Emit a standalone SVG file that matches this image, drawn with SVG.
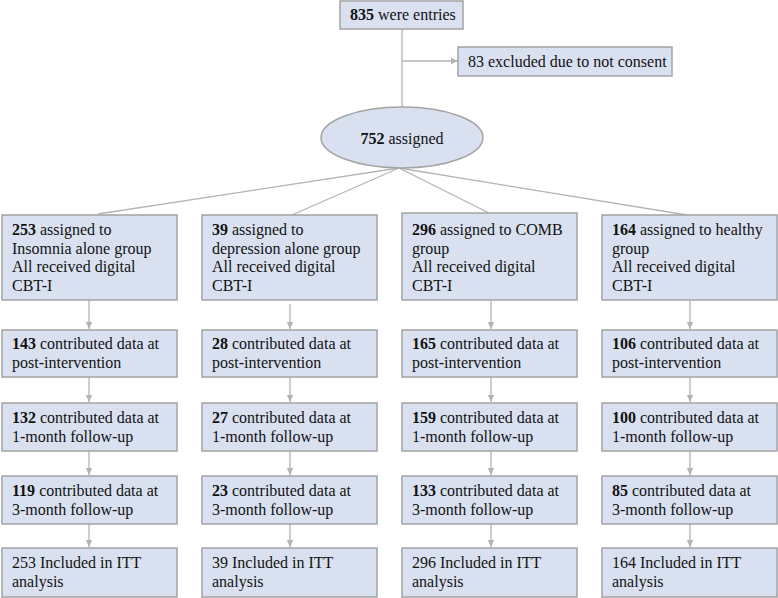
<svg xmlns="http://www.w3.org/2000/svg" width="778" height="598" viewBox="0 0 778 598">
<style>
.box{fill:#d9e1f1;stroke:#a3a3a3;stroke-width:1.5}
.t{font-family:"Liberation Serif","Times New Roman",serif;font-size:16px;fill:#111}
.b{font-weight:bold}
.ln{stroke:#b4b4b4;stroke-width:1.3;fill:none}
.ar{stroke:#b4b4b4;stroke-width:1.3;fill:none;marker-end:url(#ah)}
</style>
<defs>
<marker id="ah" markerWidth="8" markerHeight="8" refX="7" refY="4" orient="auto" markerUnits="userSpaceOnUse">
<path d="M0,0.8 L7,4 L0,7.2 Z" fill="#b4b4b4"/>
</marker>
</defs>
<rect width="778" height="598" fill="#fff"/>
<g id="connectors">
<line class="ln" x1="402" y1="29" x2="402" y2="107"/>
<line class="ar" x1="402" y1="61" x2="458" y2="61"/>
<line class="ln" x1="399" y1="168" x2="98" y2="214"/>
<line class="ln" x1="399" y1="168" x2="292" y2="215"/>
<line class="ln" x1="399" y1="168" x2="489" y2="213"/>
<line class="ln" x1="399" y1="168" x2="687" y2="215"/>
<line class="ar" x1="89" y1="300" x2="89" y2="329"/>
<line class="ar" x1="290" y1="304" x2="290" y2="329"/>
<line class="ar" x1="491" y1="301" x2="491" y2="329"/>
<line class="ar" x1="690" y1="301" x2="690" y2="329"/>
<line class="ar" x1="89" y1="377" x2="89" y2="402"/>
<line class="ar" x1="290" y1="377" x2="290" y2="402"/>
<line class="ar" x1="491" y1="377" x2="491" y2="402"/>
<line class="ar" x1="690" y1="377" x2="690" y2="402"/>
<line class="ar" x1="89" y1="451" x2="89" y2="475"/>
<line class="ar" x1="290" y1="451" x2="290" y2="475"/>
<line class="ar" x1="491" y1="451" x2="491" y2="475"/>
<line class="ar" x1="690" y1="451" x2="690" y2="475"/>
<line class="ar" x1="89" y1="524" x2="89" y2="547"/>
<line class="ar" x1="290" y1="524" x2="290" y2="547"/>
<line class="ar" x1="491" y1="524" x2="491" y2="547"/>
<line class="ar" x1="690" y1="524" x2="690" y2="547"/>
</g>
<g id="n-entries"><rect class="box" x="340" y="1" width="123" height="28"/><text class="t" x="350" y="20"><tspan class="b">835</tspan> were entries</text></g>
<g id="n-excluded"><rect class="box" x="458" y="47" width="214" height="29"/><text class="t" x="468" y="67">83 excluded due to not consent</text></g>
<g id="n-assigned"><ellipse class="box" cx="402" cy="137.5" rx="81" ry="30.5"/><text class="t" x="402" y="144" text-anchor="middle"><tspan class="b">752</tspan> assigned</text></g>

<g id="n-a1"><rect class="box" x="2" y="215" width="175" height="85"/><text class="t" x="12" y="235"><tspan class="b">253</tspan> assigned  to<tspan x="12" dy="18.5">Insomnia alone group</tspan><tspan x="12" dy="18.5">All received digital</tspan><tspan x="12" dy="18.5">CBT-I</tspan></text></g>
<g id="n-b1"><rect class="box" x="202" y="215" width="175" height="85"/><text class="t" x="212" y="235"><tspan class="b">39</tspan> assigned  to<tspan x="212" dy="18.5">depression alone group</tspan><tspan x="212" dy="18.5">All received digital</tspan><tspan x="212" dy="18.5">CBT-I</tspan></text></g>
<g id="n-c1"><rect class="box" x="402" y="213" width="175" height="87"/><text class="t" x="412" y="235"><tspan class="b">296</tspan> assigned  to COMB<tspan x="412" dy="18.5">group</tspan><tspan x="412" dy="18.5">All received digital</tspan><tspan x="412" dy="18.5">CBT-I</tspan></text></g>
<g id="n-d1"><rect class="box" x="602" y="215" width="175" height="85"/><text class="t" x="612" y="235"><tspan class="b">164</tspan> assigned  to healthy<tspan x="612" dy="18.5">group</tspan><tspan x="612" dy="18.5">All received digital</tspan><tspan x="612" dy="18.5">CBT-I</tspan></text></g>

<g id="n-a2"><rect class="box" x="2" y="330" width="175" height="47"/><text class="t" x="12" y="349"><tspan class="b">143</tspan> contributed data at<tspan x="12" dy="19">post-intervention</tspan></text></g>
<g id="n-b2"><rect class="box" x="202" y="330" width="175" height="47"/><text class="t" x="212" y="349"><tspan class="b">28</tspan> contributed data at<tspan x="212" dy="19">post-intervention</tspan></text></g>
<g id="n-c2"><rect class="box" x="402" y="330" width="175" height="47"/><text class="t" x="412" y="349"><tspan class="b">165</tspan> contributed data at<tspan x="412" dy="19">post-intervention</tspan></text></g>
<g id="n-d2"><rect class="box" x="602" y="330" width="175" height="47"/><text class="t" x="612" y="349"><tspan class="b">106</tspan> contributed data at<tspan x="612" dy="19">post-intervention</tspan></text></g>

<g id="n-a3"><rect class="box" x="2" y="403" width="175" height="48"/><text class="t" x="12" y="423"><tspan class="b">132</tspan> contributed data at<tspan x="12" dy="19">1-month follow-up</tspan></text></g>
<g id="n-b3"><rect class="box" x="202" y="403" width="175" height="48"/><text class="t" x="212" y="423"><tspan class="b">27</tspan> contributed data at<tspan x="212" dy="19">1-month follow-up</tspan></text></g>
<g id="n-c3"><rect class="box" x="402" y="403" width="175" height="48"/><text class="t" x="412" y="423"><tspan class="b">159</tspan> contributed data at<tspan x="412" dy="19">1-month follow-up</tspan></text></g>
<g id="n-d3"><rect class="box" x="602" y="403" width="175" height="48"/><text class="t" x="612" y="423"><tspan class="b">100</tspan> contributed data at<tspan x="612" dy="19">1-month follow-up</tspan></text></g>

<g id="n-a4"><rect class="box" x="2" y="476" width="175" height="48"/><text class="t" x="12" y="496"><tspan class="b">119</tspan> contributed data at<tspan x="12" dy="19">3-month follow-up</tspan></text></g>
<g id="n-b4"><rect class="box" x="202" y="476" width="175" height="48"/><text class="t" x="212" y="496"><tspan class="b">23</tspan> contributed data at<tspan x="212" dy="19">3-month follow-up</tspan></text></g>
<g id="n-c4"><rect class="box" x="402" y="476" width="175" height="48"/><text class="t" x="412" y="496"><tspan class="b">133</tspan> contributed data at<tspan x="412" dy="19">3-month follow-up</tspan></text></g>
<g id="n-d4"><rect class="box" x="602" y="476" width="175" height="48"/><text class="t" x="612" y="496"><tspan class="b">85</tspan> contributed data at<tspan x="612" dy="19">3-month follow-up</tspan></text></g>

<g id="n-a5"><rect class="box" x="2" y="548" width="175" height="49"/><text class="t" x="12" y="568">253 Included in ITT<tspan x="12" dy="19">analysis</tspan></text></g>
<g id="n-b5"><rect class="box" x="202" y="548" width="175" height="49"/><text class="t" x="212" y="568">39 Included in ITT<tspan x="212" dy="19">analysis</tspan></text></g>
<g id="n-c5"><rect class="box" x="402" y="548" width="175" height="49"/><text class="t" x="412" y="568">296 Included in ITT<tspan x="412" dy="19">analysis</tspan></text></g>
<g id="n-d5"><rect class="box" x="602" y="548" width="175" height="49"/><text class="t" x="612" y="568">164 Included in ITT<tspan x="612" dy="19">analysis</tspan></text></g>
</svg>
